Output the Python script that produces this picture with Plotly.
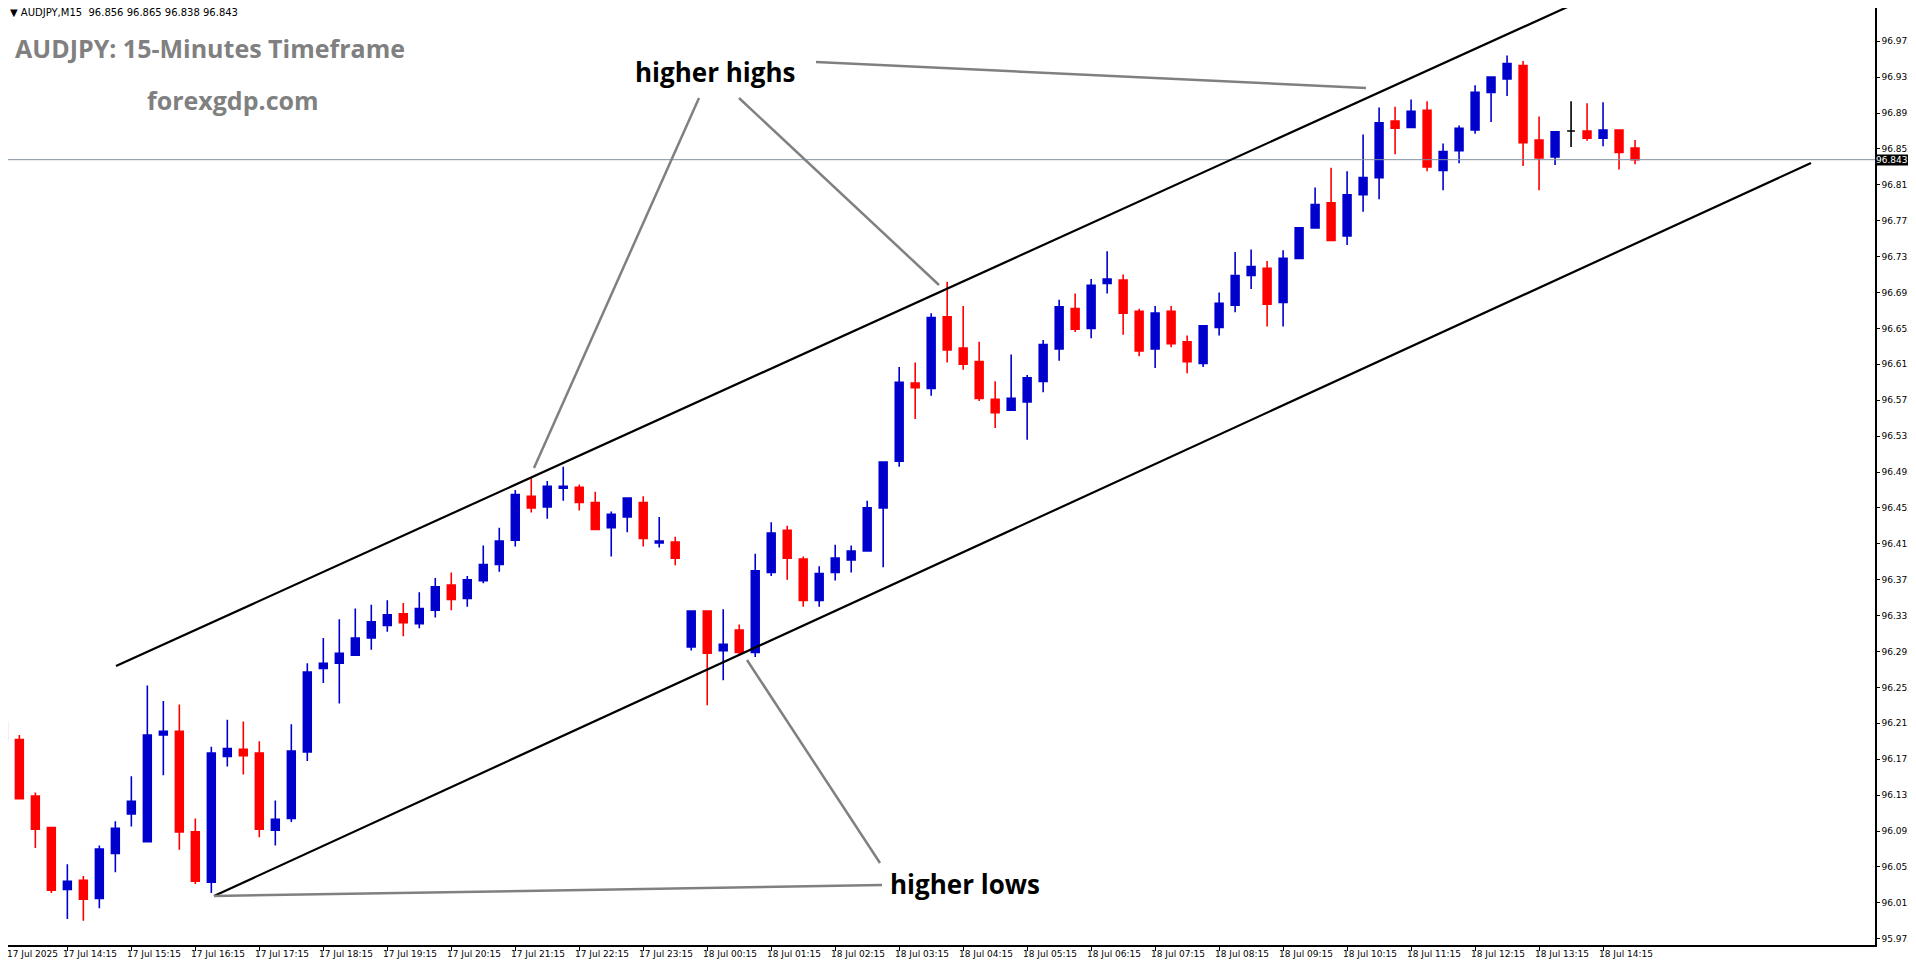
import plotly.graph_objects as go

# the page adds an 8px body margin, so the figure is drawn 8px smaller
OFF = 8
W, H = 1916 - OFF, 964 - OFF
PL, PR, PT, PB = 8, 1875, 8, 945          # plot area in reference pixels
Y0, Y1 = 95.968, 97.012
X0, X1 = 0.29, 117.0

opens = [96.216, 96.197, 96.134, 96.099, 96.030, 96.040, 96.020, 96.070, 96.114, 96.083,
         96.202, 96.206, 96.094, 96.038, 96.178, 96.186, 96.182, 96.096, 96.109, 96.183,
         96.276, 96.282, 96.291, 96.310, 96.324, 96.337, 96.326, 96.341, 96.369, 96.354,
         96.374, 96.392, 96.419, 96.468, 96.456, 96.477, 96.478, 96.461, 96.433, 96.445,
         96.461, 96.416, 96.417, 96.300, 96.340, 96.296, 96.319, 96.294, 96.383, 96.430,
         96.398, 96.352, 96.383, 96.397, 96.407, 96.455, 96.507, 96.594, 96.588, 96.668,
         96.633, 96.618, 96.576, 96.564, 96.573, 96.596, 96.632, 96.677, 96.655, 96.705,
         96.709, 96.674, 96.632, 96.674, 96.640, 96.616, 96.656, 96.681, 96.714, 96.722,
         96.684, 96.733, 96.767, 96.795, 96.758, 96.804, 96.823, 96.886, 96.879, 96.898,
         96.831, 96.853, 96.876, 96.918, 96.933, 96.948, 96.865, 96.846, 96.875, 96.875,
         96.867, 96.876, 96.856]
highs = [96.224, 96.202, 96.138, 96.099, 96.058, 96.045, 96.079, 96.106, 96.156, 96.257,
         96.240, 96.236, 96.109, 96.189, 96.219, 96.217, 96.195, 96.129, 96.214, 96.282,
         96.310, 96.331, 96.343, 96.347, 96.352, 96.349, 96.361, 96.377, 96.383, 96.379,
         96.413, 96.433, 96.475, 96.488, 96.485, 96.501, 96.481, 96.473, 96.451, 96.466,
         96.468, 96.445, 96.423, 96.340, 96.340, 96.342, 96.325, 96.404, 96.439, 96.435,
         96.401, 96.390, 96.414, 96.413, 96.463, 96.507, 96.612, 96.617, 96.672, 96.707,
         96.680, 96.640, 96.596, 96.626, 96.603, 96.642, 96.687, 96.694, 96.710, 96.741,
         96.715, 96.677, 96.680, 96.680, 96.647, 96.658, 96.695, 96.740, 96.743, 96.730,
         96.742, 96.767, 96.812, 96.834, 96.830, 96.871, 96.901, 96.902, 96.910, 96.908,
         96.861, 96.881, 96.926, 96.936, 96.959, 96.953, 96.891, 96.874, 96.908, 96.906,
         96.907, 96.877, 96.865]
lows = [96.160, 96.131, 96.076, 96.026, 95.997, 95.995, 96.009, 96.049, 96.100, 96.083,
        96.157, 96.074, 96.036, 96.026, 96.167, 96.158, 96.088, 96.079, 96.105, 96.173,
        96.260, 96.237, 96.291, 96.297, 96.317, 96.312, 96.321, 96.333, 96.341, 96.345,
        96.371, 96.384, 96.412, 96.450, 96.443, 96.463, 96.452, 96.431, 96.401, 96.428,
        96.412, 96.411, 96.391, 96.296, 96.235, 96.263, 96.290, 96.289, 96.379, 96.375,
        96.345, 96.345, 96.374, 96.383, 96.407, 96.389, 96.501, 96.554, 96.580, 96.617,
        96.609, 96.574, 96.544, 96.564, 96.531, 96.584, 96.619, 96.651, 96.644, 96.694,
        96.648, 96.624, 96.611, 96.634, 96.605, 96.612, 96.647, 96.673, 96.699, 96.657,
        96.657, 96.732, 96.767, 96.753, 96.748, 96.785, 96.799, 96.849, 96.879, 96.830,
        96.809, 96.839, 96.872, 96.885, 96.914, 96.836, 96.809, 96.837, 96.857, 96.864,
        96.858, 96.832, 96.838]
closes = [96.196, 96.131, 96.097, 96.029, 96.039, 96.019, 96.075, 96.098, 96.128, 96.202,
          96.206, 96.094, 96.039, 96.182, 96.187, 96.179, 96.097, 96.108, 96.184, 96.272,
          96.282, 96.293, 96.310, 96.328, 96.336, 96.327, 96.343, 96.367, 96.353, 96.375,
          96.392, 96.418, 96.470, 96.455, 96.479, 96.479, 96.461, 96.431, 96.448, 96.466,
          96.421, 96.418, 96.399, 96.340, 96.293, 96.303, 96.294, 96.385, 96.427, 96.399,
          96.352, 96.382, 96.399, 96.407, 96.455, 96.506, 96.595, 96.589, 96.667, 96.631,
          96.615, 96.577, 96.561, 96.577, 96.600, 96.637, 96.679, 96.654, 96.703, 96.710,
          96.672, 96.630, 96.672, 96.638, 96.618, 96.658, 96.683, 96.714, 96.724, 96.682,
          96.733, 96.767, 96.793, 96.753, 96.804, 96.823, 96.884, 96.878, 96.897, 96.835,
          96.852, 96.878, 96.918, 96.935, 96.950, 96.862, 96.845, 96.874, 96.875, 96.867,
          96.876, 96.851, 96.843]

time_labels = ["17 Jul 2025", "17 Jul 14:15", "17 Jul 15:15", "17 Jul 16:15", "17 Jul 17:15",
               "17 Jul 18:15", "17 Jul 19:15", "17 Jul 20:15", "17 Jul 21:15", "17 Jul 22:15",
               "17 Jul 23:15", "18 Jul 00:15", "18 Jul 01:15", "18 Jul 02:15", "18 Jul 03:15",
               "18 Jul 04:15", "18 Jul 05:15", "18 Jul 06:15", "18 Jul 07:15", "18 Jul 08:15",
               "18 Jul 09:15", "18 Jul 10:15", "18 Jul 11:15", "18 Jul 12:15", "18 Jul 13:15",
               "18 Jul 14:15"]
price_ticks = [round(95.975 + 0.04 * k, 3) for k in range(27)]
last_price = 96.843


def px2x(px):
    return X0 + (px - PL) / (PR - PL) * (X1 - X0)


def px2y(py):
    return Y1 - (py - PT) / (PB - PT) * (Y1 - Y0)


idx = list(range(len(opens)))
doji = [i for i in idx if opens[i] == closes[i]]
normal = [i for i in idx if i not in doji]

fig = go.Figure()
fig.add_trace(go.Candlestick(
    x=normal, open=[opens[i] for i in normal], high=[highs[i] for i in normal],
    low=[lows[i] for i in normal], close=[closes[i] for i in normal],
    increasing=dict(line=dict(color="#0000CD", width=1.6), fillcolor="#0000CD"),
    decreasing=dict(line=dict(color="#FF0000", width=1.6), fillcolor="#FF0000"),
    whiskerwidth=0, showlegend=False))
fig.add_trace(go.Candlestick(
    x=doji, open=[opens[i] for i in doji], high=[highs[i] for i in doji],
    low=[lows[i] for i in doji], close=[closes[i] for i in doji],
    increasing=dict(line=dict(color="black", width=1.6), fillcolor="black"),
    decreasing=dict(line=dict(color="black", width=1.6), fillcolor="black"),
    whiskerwidth=0, showlegend=False))

# current price line
fig.add_shape(type="line", xref="paper", x0=0, x1=1, y0=last_price, y1=last_price,
              line=dict(color="#8090A0", width=1))

# channel lines
for (a, b) in [((116, 666), (1574, 4)), ((214, 896), (1811, 163))]:
    fig.add_shape(type="line", x0=px2x(a[0]), y0=px2y(a[1]), x1=px2x(b[0]), y1=px2y(b[1]),
                  line=dict(color="black", width=2.2))

# pointer lines
pointers = [((816, 62), (1366, 88)), ((699, 98), (534, 468)), ((739, 98), (939, 285)),
            ((214, 896), (882, 885)), ((747, 660), (880, 863))]
for (a, b) in pointers:
    fig.add_shape(type="line", x0=px2x(a[0]), y0=px2y(a[1]), x1=px2x(b[0]), y1=px2y(b[1]),
                  line=dict(color="#808080", width=2.5))

ann = []
ann.append(dict(x=px2x(715), y=px2y(72), text="<b>higher highs</b>", showarrow=False,
                font=dict(family="Open Sans", size=26, color="black")))
ann.append(dict(x=px2x(888), y=px2y(884), text="<b>higher lows</b>", showarrow=False, xanchor="left",
                font=dict(family="Open Sans", size=26, color="black")))
ann.append(dict(x=px2x(13), y=px2y(48), text="<b>AUDJPY: 15-Minutes Timeframe</b>", showarrow=False,
                xanchor="left", font=dict(family="Open Sans", size=25, color="#808080")))
ann.append(dict(x=px2x(145), y=px2y(100), text="<b>forexgdp.com</b>", showarrow=False,
                xanchor="left", font=dict(family="Open Sans", size=25, color="#808080")))
ann.append(dict(x=px2x(8), y=px2y(12), text="▼ AUDJPY,M15  96.856 96.865 96.838 96.843",
                showarrow=False, xanchor="left", font=dict(family="DejaVu Sans", size=10, color="black")))
for k, lab in enumerate(time_labels):
    ann.append(dict(x=max(4 * k, X0), y=0, yref="paper", yanchor="top", yshift=-2, xanchor="left",
                    xshift=-6 if k else -3, text=lab, showarrow=False,
                    font=dict(family="DejaVu Sans", size=9, color="black")))
ann.append(dict(x=1, xref="paper", xanchor="left", y=last_price, text=f"{last_price:.3f} ",
                showarrow=False, bgcolor="black", font=dict(family="DejaVu Sans", size=9, color="white"),
                borderpad=0))

fig.update_layout(
    width=W, height=H, plot_bgcolor="white", paper_bgcolor="white",
    margin=dict(l=PL - OFF, r=1916 - PR, t=PT - OFF, b=964 - PB, autoexpand=False),
    xaxis=dict(range=[X0, X1], rangeslider_visible=False, showgrid=False, zeroline=False,
               tickvals=[4 * k for k in range(len(time_labels))], showticklabels=False,
               ticks="outside", ticklen=4, tickcolor="black",
               showline=True, linecolor="black", linewidth=1.5, mirror=True),
    yaxis=dict(range=[Y0, Y1], side="right", showgrid=False, zeroline=False,
               tickvals=price_ticks, ticktext=[f"{v:.3f}" for v in price_ticks],
               ticks="outside", ticklen=3, tickcolor="black",
               tickfont=dict(family="DejaVu Sans", size=9, color="black"),
               showline=True, linecolor="black", linewidth=1.5, mirror=True),
    annotations=ann,
)

fig.write_html("out.html")
